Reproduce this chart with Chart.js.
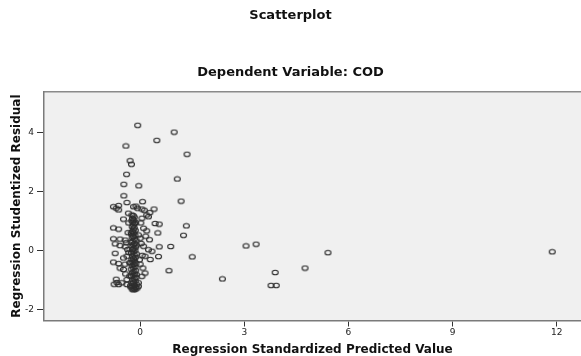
<!DOCTYPE html>
<html>
<head>
    <title>Scatterplot</title>
    <script src="https://cdn.jsdelivr.net/npm/chart.js"></script>
    <style>
        body { margin: 0; background: #fff; overflow: hidden; }
        #chart-container { width: 581px; height: 356px; }
    </style>
</head>
<body>
    <div id="chart-container">
        <canvas id="scatter-chart"></canvas>
    </div>

    <script>
        // valores (predicho estandarizado, residuo studentizado)
        var xVals = [
            -0.07, 0.98, 0.48, -0.41, 1.35, -0.29, -0.25, -0.39, 1.07, -0.47,
            -0.04, -0.47, 1.18, 0.07, -0.38, -0.77, -0.62, -0.69, -0.62, 0.40,
            -0.48, 0.43, 0.55, 1.33, -0.77, -0.62, 0.51, 1.25, 0.27, -0.77,
            -0.58, 0.55, 0.88, 1.50, 0.53, 0.83, -0.72, -0.77, -0.62, -0.69,
            -0.67, -0.75, -0.62, -0.53, 3.05, 3.34, 5.41, 4.75, 3.89, 2.37,
            3.77, 3.92, 11.87,
            -0.19, -0.08, 0.05, 0.19, 0.24, -0.34, -0.24, 0.05, 0.10, 0.19,
            -0.05, 0.00, -0.43, -0.72, -0.58, -0.43, 0.10, 0.24, 0.34, -0.48,
            -0.38, 0.14, 0.29, -0.58, -0.48, 0.08, 0.14, 0.05, -0.38, -0.38,
            -0.05, -0.05, -0.33, -0.35, -0.40, -0.33, -0.30, -0.42, 0.02, -0.02,
            0.03, -0.30, 0.12, 0.28, -0.12, 0.00, 0.06, -0.36, -0.44, 0.16,
            -0.20, -0.17, -0.22, -0.18, -0.21, -0.16, -0.19, -0.23, -0.17, -0.20,
            -0.14, -0.22, -0.18, -0.25, -0.15, -0.20, -0.23, -0.17, -0.12, -0.21,
            -0.26, -0.16, -0.19, -0.23, -0.13, -0.18, -0.22, -0.15, -0.20, -0.25,
            -0.11, -0.17, -0.22, -0.14, -0.19, -0.24, -0.16, -0.21, -0.12, -0.18,
            -0.23, -0.15, -0.20, -0.26, -0.13, -0.18, -0.22, -0.16, -0.20, -0.25,
            -0.12, -0.17, -0.22, -0.14, -0.19, -0.24, -0.10, -0.16, -0.21, -0.27,
            -0.13, -0.18, -0.23, -0.15, -0.20, -0.09, -0.28, -0.11, -0.27, -0.10,
            -0.26, -0.13, -0.24
        ];
        var yVals = [
            4.26, 4.03, 3.75, 3.56, 3.28, 3.06, 2.94, 2.60, 2.44, 2.26,
            2.21, 1.87, 1.69, 1.67, 1.64, 1.50, 1.54, 1.45, 1.39, 1.42,
            1.08, 0.93, 0.91, 0.85, 0.78, 0.74, 0.61, 0.53, 0.38, 0.41,
            0.40, 0.14, 0.15, -0.20, -0.19, -0.67, -0.08, -0.38, -0.43, -0.96,
            -1.07, -1.13, -1.14, -1.08, 0.17, 0.23, -0.06, -0.58, -0.73, -0.95,
            -1.17, -1.17, -0.03,
            1.50, 1.45, 1.42, 1.22, 1.16, 1.28, 1.22, 1.11, 0.77, 0.68,
            0.54, 0.43, 0.37, 0.24, 0.18, 0.14, 0.16, 0.04, -0.01, -0.24,
            -0.18, -0.18, -0.29, -0.58, -0.63, -0.58, -0.75, -0.86, -0.97, -1.14,
            -1.08, -1.20, 0.95, 0.62, 0.28, -0.05, -0.40, -0.78, 0.95, -0.30,
            0.25, -0.85, 1.38, 1.30, 1.52, -0.45, -0.15, 0.05, -0.45, 0.50,
            1.20, 1.15, 1.10, 1.04, 0.98, 0.93, 0.88, 0.83, 0.78, 0.74,
            0.70, 0.66, 0.61, 0.57, 0.53, 0.49, 0.45, 0.41, 0.37, 0.33,
            0.29, 0.25, 0.21, 0.17, 0.13, 0.09, 0.05, 0.01, -0.03, -0.07,
            -0.10, -0.14, -0.18, -0.22, -0.26, -0.30, -0.34, -0.38, -0.42, -0.46,
            -0.50, -0.54, -0.58, -0.62, -0.66, -0.70, -0.74, -0.78, -0.82, -0.86,
            -0.90, -0.94, -0.98, -1.02, -1.06, -1.10, -1.13, -1.16, -1.19, -1.22,
            -1.24, -1.27, -1.29, -1.31, -1.32, -1.26, -1.18, -0.80, -0.40, 0.20,
            0.62, 0.96, 1.02
        ];
        var xTicks = [0, 3, 6, 9, 12];
        var yTicks = [-2, 0, 2, 4];

        var puntos = [];
        for (var i = 0; i < xVals.length; i++) {
            puntos.push({ x: xVals[i], y: yVals[i] });
        }

        // marcador: circulo abierto un poco achatado como en el original
        var marca = document.createElement('canvas');
        marca.width = 9;
        marca.height = 7;
        var mctx = marca.getContext('2d');
        mctx.strokeStyle = '#2e2e2e';
        mctx.lineWidth = 1.1;
        mctx.beginPath();
        mctx.ellipse(4.5, 3.5, 3.0, 2.3, 0, 0, Math.PI * 2);
        mctx.stroke();

        var fondo = {
            id: 'fondo',
            beforeDraw: function(chart) {
                var a = chart.chartArea;
                var c = chart.ctx;
                c.save();
                c.fillStyle = '#f0f0f0';
                c.fillRect(a.left, a.top, a.right - a.left, a.bottom - a.top);
                c.strokeStyle = '#8a8a8a';
                c.lineWidth = 1.5;
                c.beginPath();
                c.moveTo(a.left, a.top);
                c.lineTo(a.right, a.top);
                c.stroke();
                c.restore();
            }
        };

        var ctx = document.getElementById('scatter-chart').getContext('2d');
        var chart = new Chart(ctx, {
            type: 'scatter',
            data: {
                datasets: [{
                    data: puntos,
                    pointStyle: marca,
                    pointRadius: 3
                }]
            },
            options: {
                responsive: true,
                maintainAspectRatio: false,
                animation: false,
                events: [],
                layout: { padding: 0, autoPadding: false },
                plugins: {
                    legend: { display: false },
                    tooltip: { enabled: false },
                    title: {
                        display: true,
                        text: 'Scatterplot',
                        color: '#111',
                        font: { family: 'DejaVu Sans', size: 13, weight: 'bold' },
                        padding: { top: 8, bottom: 0 }
                    },
                    subtitle: {
                        display: true,
                        text: 'Dependent Variable: COD',
                        color: '#111',
                        font: { family: 'DejaVu Sans', size: 13, weight: 'bold' },
                        padding: { top: 41, bottom: 11.5 }
                    }
                },
                scales: {
                    x: {
                        type: 'linear',
                        min: -2.77,
                        max: 12.70,
                        afterFit: function(s) {
                            s.height = 35.5;
                            s.paddingLeft = 0;
                            s.paddingRight = 0;
                        },
                        afterBuildTicks: function(s) {
                            s.ticks = xTicks.map(function(v) { return { value: v }; });
                        },
                        grid: { drawOnChartArea: false, tickLength: 6, tickColor: '#333', tickWidth: 1 },
                        border: { color: '#7a7a7a', width: 1.5 },
                        ticks: {
                            color: '#222',
                            padding: 1,
                            maxRotation: 0,
                            font: { family: 'DejaVu Sans', size: 9 }
                        },
                        title: {
                            display: true,
                            text: 'Regression Standardized Predicted Value',
                            color: '#111',
                            font: { family: 'DejaVu Sans', size: 12, weight: 'bold', lineHeight: 1 },
                            padding: { top: 0, bottom: 0 }
                        }
                    },
                    y: {
                        type: 'linear',
                        min: -2.36,
                        max: 5.40,
                        afterFit: function(s) {
                            s.width = 44;
                            s.paddingTop = 0;
                            s.paddingBottom = 0;
                        },
                        afterBuildTicks: function(s) {
                            s.ticks = yTicks.map(function(v) { return { value: v }; });
                        },
                        grid: { drawOnChartArea: false, tickLength: 7, tickColor: '#333', tickWidth: 1 },
                        border: { color: '#7a7a7a', width: 1.5 },
                        ticks: {
                            color: '#222',
                            padding: 3,
                            font: { family: 'DejaVu Sans', size: 9 }
                        },
                        title: {
                            display: true,
                            text: 'Regression Studentized Residual',
                            color: '#111',
                            font: { family: 'DejaVu Sans', size: 12, weight: 'bold' },
                            padding: { top: 10, bottom: 0 }
                        }
                    }
                }
            },
            plugins: [fondo]
        });
    </script>
</body>
</html>
